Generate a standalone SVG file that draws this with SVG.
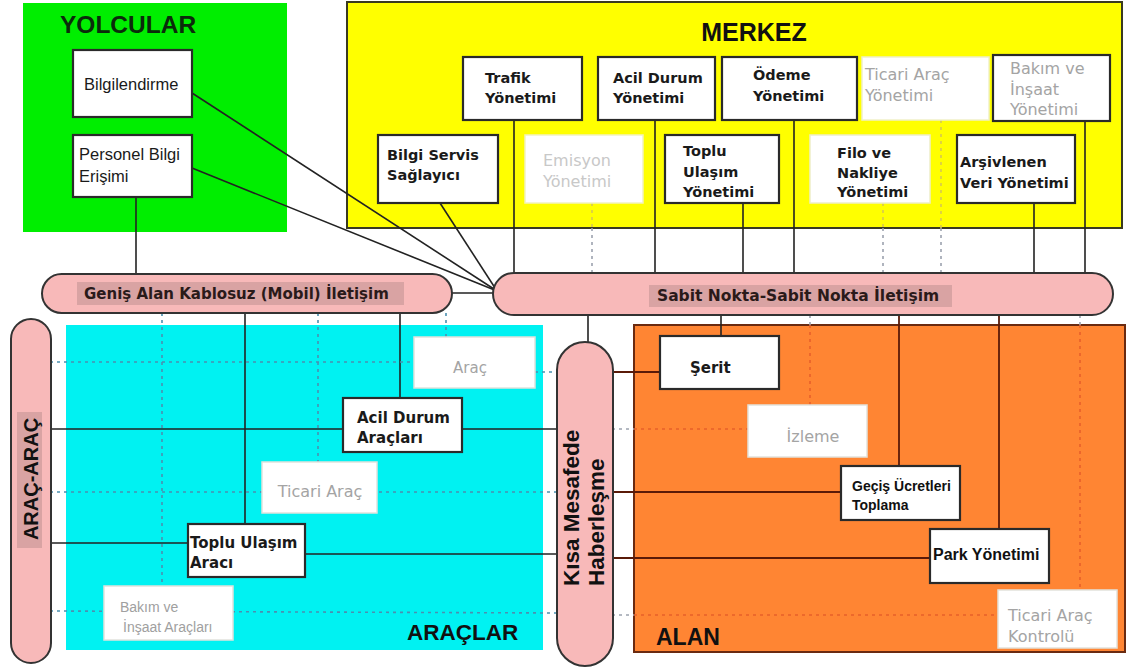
<svg xmlns="http://www.w3.org/2000/svg" width="1129" height="671" viewBox="0 0 1129 671">
  <style>
    .box{fill:#fff;stroke:#2a2a2a;stroke-width:2.2}
    .fbox{fill:#fff;stroke:#e2e2dc;stroke-width:1.5}
    .t{font-family:"DejaVu Sans",sans-serif;font-weight:bold;font-size:14.5px;fill:#1a1a1a}
    .ta{font-family:"Liberation Sans",Arial,sans-serif;font-size:16.5px;fill:#1a1a1a}
    .tf{font-family:"DejaVu Sans",sans-serif;font-size:16px;fill:#a4a4a4}
    .title{font-family:"Liberation Sans",Arial,sans-serif;font-weight:bold;fill:#111}
    .pill{fill:#f8b9b9;stroke:#333;stroke-width:2}
    .plab{fill:#d9a3a3}
    .pt{font-family:"DejaVu Sans",sans-serif;font-weight:bold;font-size:15px;fill:#2a1a1a}
    .ln{stroke:#222;stroke-width:1.6;fill:none}
    .lo{stroke:#5a1a08;stroke-width:1.8;fill:none}
    .dg{stroke:#9ca2ae;stroke-width:1.6;stroke-dasharray:3 4;fill:none}
    .dc{stroke:#4a90b0;stroke-width:1.6;stroke-dasharray:3 4;fill:none}
    .do{stroke:#e8602a;stroke-width:1.6;stroke-dasharray:3 4;fill:none}
    .dy{stroke:#d6c850;stroke-width:1.6;stroke-dasharray:3 4;fill:none}
  </style>
  <rect width="1129" height="671" fill="#fff"/>

  <!-- domain areas -->
  <g id="yolcular">
    <rect x="23" y="3" width="264" height="229" fill="#00ee00"/>
    <text class="title" x="60" y="33" font-size="24.5" style="fill:#0b2b0b">YOLCULAR</text>
  </g>
  <g id="merkez">
    <rect x="347" y="2" width="775" height="226" fill="#ffff00" stroke="#3a3a20" stroke-width="2"/>
    <text class="title" x="754" y="41" font-size="25" text-anchor="middle">MERKEZ</text>
  </g>
  <g id="araclar">
    <rect x="66" y="325" width="477" height="325" fill="#00f2f2"/>
    <text class="title" x="407" y="640" font-size="22.5">ARAÇLAR</text>
  </g>
  <g id="alan">
    <rect x="634" y="325" width="491" height="327" fill="#ff8533" stroke="#6a2a10" stroke-width="2"/>
    <text class="title" x="656" y="645" font-size="23">ALAN</text>
  </g>

  <!-- connectors -->
  <g id="connectors">
    <!-- yolcular / bilgi servis to the fixed-point link -->
    <line class="ln" x1="136" y1="197" x2="136" y2="275"/>
    <line class="ln" x1="192" y1="93" x2="497" y2="291"/>
    <line class="ln" x1="192" y1="168" x2="497" y2="291"/>
    <line class="ln" x1="440" y1="203" x2="497" y2="291"/>
    <line class="ln" x1="450" y1="293" x2="496" y2="293"/>
    <!-- merkez to fixed-point link -->
    <line class="ln" x1="514" y1="120" x2="514" y2="274"/>
    <line class="ln" x1="655" y1="120" x2="655" y2="274"/>
    <line class="ln" x1="743" y1="203" x2="743" y2="274"/>
    <line class="ln" x1="794" y1="120" x2="794" y2="274"/>
    <line class="ln" x1="1034" y1="203" x2="1034" y2="274"/>
    <line class="ln" x1="1085" y1="120" x2="1085" y2="274"/>
    <line class="dy" x1="592" y1="203" x2="592" y2="228"/>
    <line class="dg" x1="592" y1="228" x2="592" y2="273"/>
    <line class="dy" x1="883" y1="203" x2="883" y2="228"/>
    <line class="dg" x1="883" y1="228" x2="883" y2="273"/>
    <line class="dy" x1="941" y1="120" x2="941" y2="228"/>
    <line class="dg" x1="941" y1="228" x2="941" y2="273"/>
    <!-- wide-area wireless to vehicles -->
    <line class="ln" x1="245" y1="312" x2="245" y2="524"/>
    <line class="ln" x1="400" y1="312" x2="400" y2="398"/>
    <line class="dc" x1="162" y1="313" x2="162" y2="586"/>
    <line class="dc" x1="318" y1="313" x2="318" y2="462"/>
    <line class="dc" x1="446" y1="313" x2="446" y2="337"/>
    <!-- vehicle-to-vehicle and short-range links -->
    <line class="ln" x1="50" y1="429" x2="558" y2="429"/>
    <line class="ln" x1="50" y1="543" x2="190" y2="543"/>
    <line class="ln" x1="303" y1="554" x2="558" y2="554"/>
    <line class="dc" x1="50" y1="362" x2="415" y2="362"/>
    <line class="dc" x1="535" y1="372" x2="558" y2="372"/>
    <line class="dc" x1="50" y1="492" x2="558" y2="492"/>
    <line class="dc" x1="50" y1="611" x2="558" y2="613"/>
    <!-- fixed-point link to field -->
    <line class="ln" x1="588" y1="314" x2="588" y2="344"/>
    <line class="ln" x1="721" y1="314" x2="721" y2="336"/>
    <line class="lo" x1="899" y1="314" x2="899" y2="466"/>
    <line class="lo" x1="999" y1="314" x2="999" y2="529"/>
    <line class="dg" x1="810" y1="315" x2="810" y2="325"/>
    <line class="do" x1="810" y1="325" x2="810" y2="405"/>
    <line class="dg" x1="1080" y1="315" x2="1080" y2="325"/>
    <line class="do" x1="1080" y1="325" x2="1080" y2="590"/>
    <!-- short-range link to field -->
    <line class="lo" x1="611" y1="372" x2="661" y2="372"/>
    <line class="lo" x1="611" y1="492" x2="841" y2="492"/>
    <line class="lo" x1="611" y1="558" x2="930" y2="558"/>
    <line class="dg" x1="612" y1="429" x2="634" y2="429"/>
    <line class="do" x1="634" y1="429" x2="749" y2="429"/>
    <line class="dg" x1="612" y1="615" x2="634" y2="615"/>
    <line class="do" x1="634" y1="615" x2="999" y2="615"/>
  </g>

  <!-- communication links -->
  <g id="genis-alan">
    <rect class="pill" x="42" y="274" width="410" height="39" rx="19.5"/>
    <rect class="plab" x="77" y="282" width="327" height="23"/>
    <text class="pt" x="84" y="299">Geniş Alan Kablosuz (Mobil) İletişim</text>
  </g>
  <g id="sabit-nokta">
    <rect class="pill" x="493" y="273" width="620" height="42" rx="21"/>
    <rect class="plab" x="649" y="285" width="303" height="22"/>
    <text class="pt" x="657" y="301" style="font-size:15.5px">Sabit Nokta-Sabit Nokta İletişim</text>
  </g>
  <g id="arac-arac">
    <rect class="pill" x="11" y="319" width="40" height="344" rx="20"/>
    <rect class="plab" x="17" y="412" width="25" height="136"/>
    <text class="title" font-size="20" text-anchor="middle" transform="translate(38,479) rotate(-90)">ARAÇ-ARAÇ</text>
  </g>
  <g id="kisa-mesafe">
    <rect class="pill" x="557" y="342" width="56" height="324" rx="28"/>
    <text class="title" font-size="22.5" transform="translate(579,586) rotate(-90)">Kısa Mesafede</text>
    <text class="title" font-size="22.5" transform="translate(604,586) rotate(-90)">Haberleşme</text>
  </g>

  <!-- yolcular nodes -->
  <g id="bilgilendirme">
    <rect class="box" x="73" y="50" width="119" height="67"/>
    <text class="ta" x="84" y="90">Bilgilendirme</text>
  </g>
  <g id="personel-bilgi">
    <rect class="box" x="73" y="135" width="119" height="62"/>
    <text class="ta" x="79" y="160">Personel Bilgi</text>
    <text class="ta" x="79" y="182">Erişimi</text>
  </g>

  <!-- merkez nodes -->
  <g id="trafik-yonetimi">
    <rect class="box" x="463" y="57" width="119" height="63"/>
    <text class="t" x="485" y="83">Trafik</text>
    <text class="t" x="485" y="103">Yönetimi</text>
  </g>
  <g id="acil-durum-yonetimi">
    <rect class="box" x="598" y="57" width="117" height="63"/>
    <text class="t" x="613" y="83">Acil Durum</text>
    <text class="t" x="613" y="103">Yönetimi</text>
  </g>
  <g id="odeme-yonetimi">
    <rect class="box" x="722" y="57" width="135" height="63"/>
    <text class="t" x="753" y="80">Ödeme</text>
    <text class="t" x="753" y="101">Yönetimi</text>
  </g>
  <g id="ticari-arac-yonetimi">
    <rect class="fbox" x="862" y="57" width="127" height="63" style="stroke:#f0f0c8"/>
    <text class="tf" x="865" y="80">Ticari Araç</text>
    <text class="tf" x="865" y="101">Yönetimi</text>
  </g>
  <g id="bakim-insaat-yonetimi">
    <rect class="box" x="993" y="55" width="117" height="66"/>
    <text class="tf" x="1010" y="74">Bakım ve</text>
    <text class="tf" x="1010" y="95">İnşaat</text>
    <text class="tf" x="1010" y="115">Yönetimi</text>
  </g>
  <g id="bilgi-servis">
    <rect class="box" x="378" y="135" width="120" height="68"/>
    <text class="t" x="387" y="160">Bilgi Servis</text>
    <text class="t" x="387" y="180">Sağlayıcı</text>
  </g>
  <g id="emisyon-yonetimi">
    <rect class="fbox" x="525" y="135" width="118" height="68" style="stroke:#f2f2c0"/>
    <text class="tf" x="543" y="166" style="fill:#c8c8c8">Emisyon</text>
    <text class="tf" x="543" y="187" style="fill:#c8c8c8">Yönetimi</text>
  </g>
  <g id="toplu-ulasim-yonetimi">
    <rect class="box" x="665" y="135" width="114" height="68"/>
    <text class="t" x="683" y="156">Toplu</text>
    <text class="t" x="683" y="177">Ulaşım</text>
    <text class="t" x="683" y="197">Yönetimi</text>
  </g>
  <g id="filo-nakliye-yonetimi">
    <rect class="fbox" x="810" y="135" width="120" height="68" style="stroke:#eeeec8"/>
    <text class="t" x="837" y="158">Filo ve</text>
    <text class="t" x="837" y="178">Nakliye</text>
    <text class="t" x="837" y="197">Yönetimi</text>
  </g>
  <g id="arsiv-veri-yonetimi">
    <rect class="box" x="957" y="135" width="118" height="68"/>
    <text class="t" x="960" y="167">Arşivlenen</text>
    <text class="t" x="960" y="188">Veri Yönetimi</text>
  </g>

  <!-- arac nodes -->
  <g id="arac">
    <rect class="fbox" x="414" y="337" width="121" height="51"/>
    <text class="tf" x="470" y="373" text-anchor="middle" style="font-size:15px">Araç</text>
  </g>
  <g id="acil-durum-araclari">
    <rect class="box" x="343" y="398" width="119" height="54"/>
    <text class="t" x="357" y="423" style="font-size:15px">Acil Durum</text>
    <text class="t" x="357" y="443" style="font-size:15px">Araçları</text>
  </g>
  <g id="ticari-arac">
    <rect class="fbox" x="262" y="462" width="115" height="51"/>
    <text class="tf" x="320" y="497" text-anchor="middle">Ticari Araç</text>
  </g>
  <g id="toplu-ulasim-araci">
    <rect class="box" x="188" y="524" width="117" height="53"/>
    <text class="t" x="190" y="548" style="font-size:15px">Toplu Ulaşım</text>
    <text class="t" x="190" y="568" style="font-size:15px">Aracı</text>
  </g>
  <g id="bakim-insaat-araclari">
    <rect class="fbox" x="104" y="586" width="129" height="54"/>
    <text class="ta" x="120" y="612" style="font-size:14px;fill:#a0a0a0">Bakım ve</text>
    <text class="ta" x="123" y="632" style="font-size:14px;fill:#a0a0a0">İnşaat Araçları</text>
  </g>

  <!-- alan nodes -->
  <g id="serit">
    <rect class="box" x="660" y="336" width="119" height="53"/>
    <text class="t" x="690" y="373" style="font-size:15px">Şerit</text>
  </g>
  <g id="izleme">
    <rect class="fbox" x="748" y="405" width="119" height="52"/>
    <text class="tf" x="813" y="442" text-anchor="middle">İzleme</text>
  </g>
  <g id="gecis-ucretleri">
    <rect class="box" x="841" y="466" width="119" height="54"/>
    <text class="title" x="852" y="491" font-size="14">Geçiş Ücretleri</text>
    <text class="title" x="852" y="510" font-size="14">Toplama</text>
  </g>
  <g id="park-yonetimi">
    <rect class="box" x="930" y="529" width="119" height="54"/>
    <text class="title" x="933" y="560" font-size="16">Park Yönetimi</text>
  </g>
  <g id="ticari-arac-kontrolu">
    <rect class="fbox" x="998" y="590" width="119" height="58"/>
    <text class="tf" x="1008" y="621">Ticari Araç</text>
    <text class="tf" x="1008" y="642">Kontrolü</text>
  </g>
</svg>
